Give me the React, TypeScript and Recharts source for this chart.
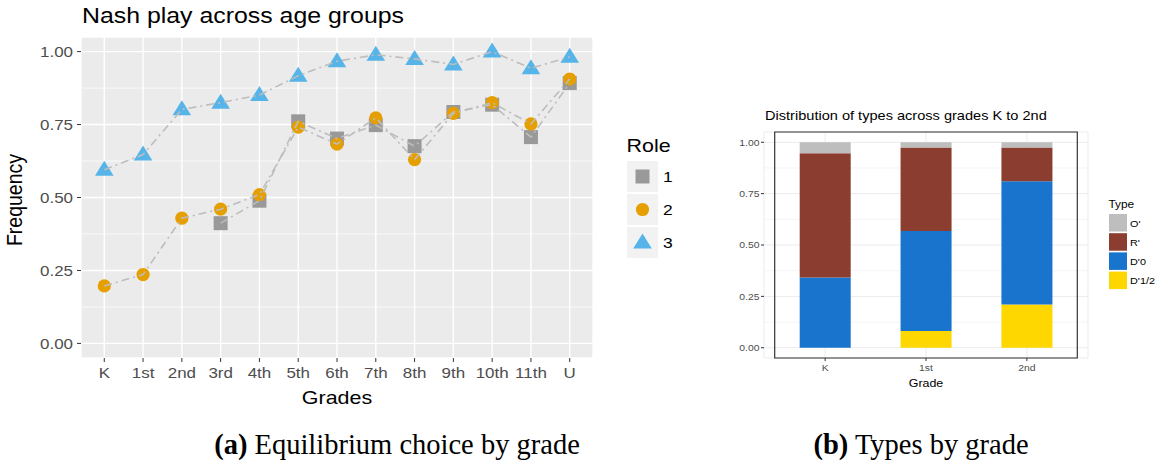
import React from 'react';
import {
  ComposedChart,
  BarChart,
  Bar,
  Line,
  Scatter,
  XAxis,
  YAxis,
  CartesianGrid,
  ReferenceLine,
  ReferenceArea,
} from 'recharts';

// ---------- Data: panel (a) ----------
const grades = ['K', '1st', '2nd', '3rd', '4th', '5th', '6th', '7th', '8th', '9th', '10th', '11th', 'U'];
const role1: (number | null)[] = [null, null, null, 0.412, 0.489, 0.761, 0.702, 0.748, 0.676, 0.793, 0.818, 0.707, 0.892];
const role2: number[] = [0.197, 0.236, 0.429, 0.46, 0.51, 0.741, 0.683, 0.773, 0.63, 0.788, 0.825, 0.752, 0.906];
const role3: number[] = [0.595, 0.647, 0.802, 0.825, 0.851, 0.917, 0.967, 0.989, 0.975, 0.956, 1.0, 0.943, 0.982];
const freqTicks = [0, 0.25, 0.5, 0.75, 1];
const minorTicks = [0.125, 0.375, 0.625, 0.875];
const roleLabels = ['1', '2', '3'];

// ---------- Data: panel (b) ----------
const typeGrades = ['K', '1st', '2nd'];
const typeD12 = [0, 0.081, 0.21];
const typeD0 = [0.342, 0.487, 0.6];
const typeR = [0.605, 0.406, 0.164];
const typeO = [0.053, 0.026, 0.026];
const typeLabels = ["O'", "R'", "D'0", "D'1/2"];

const SANS = '"Liberation Sans", Arial, Helvetica, sans-serif';
const SERIF = '"Liberation Serif", "DejaVu Serif", serif';
const SX = 1.13; // horizontal stretch of the figure text

const C_SQ = '#999999';
const C_CI = '#E69F00';
const C_TR = '#56B4E9';
const C_LINE = '#BDBDBD';

const lineData = grades.map((g, i) => ({ x: i, grade: g, r1: role1[i], r2: role2[i], r3: role3[i] }));
const pts = (arr: (number | null)[]) =>
  arr.map((v, i) => ({ x: i, y: v })).filter((d) => d.y !== null && d.y !== undefined);
const gradeIdx = grades.map((_, i) => i);

const typeData = typeGrades.map((g, i) => ({ grade: g, d12: typeD12[i], d0: typeD0[i], r: typeR[i], o: typeO[i] }));
const typeColors = ['#BEBEBE', '#8B3E2F', '#1874CD', '#FFD700'];

const Square = (p: any) => <rect x={p.cx - 7} y={p.cy - 7} width={14} height={14} fill={C_SQ} />;
const Circ = (p: any) => <circle cx={p.cx} cy={p.cy} r={6.6} fill={C_CI} />;
const Tri = (p: any) => (
  <polygon
    points={`${p.cx},${p.cy - 9} ${p.cx - 9.3},${p.cy + 6} ${p.cx + 9.3},${p.cy + 6}`}
    fill={C_TR}
  />
);

const makeTick =
  (fmt: (v: any) => string, fontSize: number, anchor: string, dy: string) =>
  (props: any) => {
    const { x, y, payload } = props;
    return (
      <g transform={`translate(${x},${y}) scale(${SX},1)`}>
        <text x={0} y={0} dy={dy} textAnchor={anchor} fontSize={fontSize} fontFamily={SANS} fill="#4D4D4D">
          {fmt(payload.value)}
        </text>
      </g>
    );
  };

const fmt2 = (v: number) => Number(v).toFixed(2);

const lineProps = {
  type: 'linear' as const,
  stroke: C_LINE,
  strokeWidth: 1.6,
  strokeDasharray: '8 4 2 4',
  dot: false,
  activeDot: false,
  isAnimationActive: false,
  connectNulls: false,
};

function LeftChart() {
  return (
    <ComposedChart width={600} height={420} data={lineData} margin={{ top: 37, right: 7, bottom: 0, left: 0 }}>
      <CartesianGrid fill="#EBEBEB" stroke="#FFFFFF" strokeWidth={1.4} />
      {minorTicks.map((v) => (
        <ReferenceLine key={v} y={v} stroke="#FFFFFF" strokeWidth={0.7} zIndex={-50} />
      ))}
      <XAxis
        type="number"
        dataKey="x"
        domain={[-0.6, 12.6]}
        allowDataOverflow
        ticks={gradeIdx}
        interval={0}
        axisLine={false}
        tickLine={{ stroke: '#333333' }}
        tickSize={4}
        tickMargin={5}
        height={62}
        tick={makeTick((i: number) => grades[i], 15, 'middle', '0.71em')}
      />
      <YAxis
        type="number"
        domain={[-0.05, 1.05]}
        allowDataOverflow
        ticks={freqTicks}
        interval={0}
        axisLine={false}
        tickLine={{ stroke: '#333333' }}
        tickSize={4}
        tickMargin={4}
        width={81}
        tick={makeTick(fmt2, 15, 'end', '0.355em')}
      />
      <Scatter data={pts(role1)} dataKey="y" shape={Square} isAnimationActive={false} />
      <Scatter data={pts(role2)} dataKey="y" shape={Circ} isAnimationActive={false} />
      <Scatter data={pts(role3)} dataKey="y" shape={Tri} isAnimationActive={false} />
      <Line dataKey="r1" {...lineProps} zIndex={800} />
      <Line dataKey="r2" {...lineProps} zIndex={800} />
      <Line dataKey="r3" {...lineProps} zIndex={800} />
    </ComposedChart>
  );
}

function RightChart() {
  return (
    <BarChart width={439} height={300} data={typeData} margin={{ top: 37, right: 71, bottom: 0, left: 0 }} barSize={51}>
      <CartesianGrid fill="#FFFFFF" stroke="#EBEBEB" strokeWidth={1} />
      {minorTicks.map((v) => (
        <ReferenceLine key={v} y={v} stroke="#F0F0F0" strokeWidth={0.7} zIndex={-50} />
      ))}
      <XAxis
        dataKey="grade"
        padding={{ left: 10.7, right: 10.7 }}
        axisLine={false}
        tickLine={{ stroke: '#333333' }}
        tickSize={3}
        tickMargin={3}
        height={37}
        tick={makeTick((v: string) => v, 9.2, 'middle', '0.71em')}
      />
      <YAxis
        type="number"
        domain={[-0.05, 1.05]}
        allowDataOverflow
        ticks={freqTicks}
        interval={0}
        axisLine={false}
        tickLine={{ stroke: '#333333' }}
        tickSize={3}
        tickMargin={1.5}
        width={44}
        tick={makeTick(fmt2, 9.2, 'end', '0.355em')}
      />
      <Bar dataKey="d12" stackId="a" fill={typeColors[3]} isAnimationActive={false} />
      <Bar dataKey="d0" stackId="a" fill={typeColors[2]} isAnimationActive={false} />
      <Bar dataKey="r" stackId="a" fill={typeColors[1]} isAnimationActive={false} />
      <Bar dataKey="o" stackId="a" fill={typeColors[0]} isAnimationActive={false} />
      <ReferenceArea y1={-0.05} y2={1.05} fill="none" stroke="#333333" strokeWidth={1.2} ifOverflow="visible" zIndex={900} />
    </BarChart>
  );
}

const sText = (x: number, y: number, size: number, label: string) => (
  <g transform={`translate(${x},${y}) scale(${SX},1)`}>
    <text x={0} y={0} fontSize={size} fontFamily={SANS} fill="#000">
      {label}
    </text>
  </g>
);

function RoleLegend() {
  const shapes = [Square, Circ, Tri];
  return (
    <svg width={110} height={140} style={{ position: 'absolute', left: 620, top: 130 }}>
      {sText(6.5, 22, 19, 'Role')}
      {roleLabels.map((lab, i) => {
        const y0 = 31 + i * 33;
        const S = shapes[i];
        return (
          <g key={lab}>
            <rect x={7} y={y0} width={31} height={31} fill="#F2F2F2" />
            <S cx={22.5} cy={y0 + 15.5} />
            {sText(43, y0 + 21, 15.5, lab)}
          </g>
        );
      })}
    </svg>
  );
}

function TypeLegend() {
  return (
    <svg width={60} height={110} style={{ position: 'absolute', left: 1102, top: 190 }}>
      {sText(6.5, 18, 10.5, 'Type')}
      {typeLabels.map((lab, i) => {
        const y0 = 24 + i * 19.2;
        return (
          <g key={lab}>
            <rect x={7} y={y0} width={18} height={17.5} fill={typeColors[i]} />
            {sText(28, y0 + 12.5, 9.6, lab)}
          </g>
        );
      })}
    </svg>
  );
}

export default function App() {
  return (
    <div style={{ position: 'absolute', left: 0, top: 0, width: 1159, height: 466, background: '#FFFFFF', overflow: 'hidden' }}>
      <div
        style={{
          position: 'absolute',
          left: 82,
          top: 3,
          fontFamily: SANS,
          fontSize: 22,
          color: '#000',
          whiteSpace: 'nowrap',
          transform: `scaleX(${SX})`,
          transformOrigin: '0 0',
        }}
      >
        Nash play across age groups
      </div>
      <div style={{ position: 'absolute', left: 0, top: 0 }}>
        <LeftChart />
      </div>
      <div
        style={{
          position: 'absolute',
          left: 15,
          top: 200,
          transform: `translate(-50%, -50%) scaleX(${SX}) rotate(-90deg)`,
          fontFamily: SANS,
          fontSize: 19.5,
          lineHeight: 1,
          color: '#000',
          whiteSpace: 'nowrap',
        }}
      >
        Frequency
      </div>
      <div
        style={{
          position: 'absolute',
          left: 337,
          top: 397,
          transform: `translate(-50%, -50%) scaleX(${SX})`,
          fontFamily: SANS,
          fontSize: 19,
          lineHeight: 1,
          color: '#000',
          whiteSpace: 'nowrap',
        }}
      >
        Grades
      </div>
      <RoleLegend />

      <div
        style={{
          position: 'absolute',
          left: 765,
          top: 108,
          fontFamily: SANS,
          fontSize: 12.9,
          color: '#000',
          whiteSpace: 'nowrap',
          transform: `scaleX(${SX})`,
          transformOrigin: '0 0',
        }}
      >
        Distribution of types across grades K to 2nd
      </div>
      <div style={{ position: 'absolute', left: 720, top: 95 }}>
        <RightChart />
      </div>
      <div
        style={{
          position: 'absolute',
          left: 926,
          top: 383,
          transform: `translate(-50%, -50%) scaleX(${SX})`,
          fontFamily: SANS,
          fontSize: 11,
          lineHeight: 1,
          color: '#000',
          whiteSpace: 'nowrap',
        }}
      >
        Grade
      </div>
      <TypeLegend />

      <div
        style={{
          position: 'absolute',
          left: 397,
          top: 445,
          transform: 'translate(-50%, -50%)',
          fontFamily: SERIF,
          fontSize: 28.5,
          lineHeight: 1,
          color: '#000',
          whiteSpace: 'nowrap',
        }}
      >
        <b>(a)</b> Equilibrium choice by grade
      </div>
      <div
        style={{
          position: 'absolute',
          left: 921,
          top: 445,
          transform: 'translate(-50%, -50%)',
          fontFamily: SERIF,
          fontSize: 28.5,
          lineHeight: 1,
          color: '#000',
          whiteSpace: 'nowrap',
        }}
      >
        <b>(b)</b> Types by grade
      </div>
    </div>
  );
}
